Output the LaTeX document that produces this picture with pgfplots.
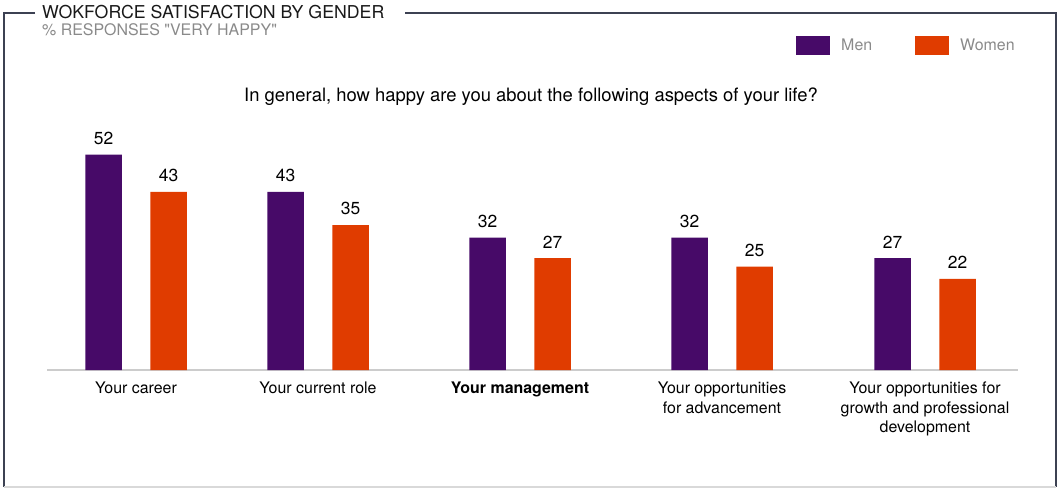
\documentclass[border=0pt]{standalone}
\usepackage{pgfplots}
\pgfplotsset{compat=1.18}
\usepackage{fontspec}
\setmainfont{TeX Gyre Heros}[Ligatures=TeXOff]
\definecolor{men}{HTML}{470A68}
\definecolor{women}{HTML}{E03C00}
\definecolor{frame}{HTML}{3C4152}
\definecolor{lgray}{HTML}{8A8A8A}
\pgfplotstableread{
x men women
136 52 43
318 43 35
520 32 27
722 32 25
925 27 22
}\datatable
\begin{document}
\begin{tikzpicture}
\useasboundingbox (0,0) rectangle (1059bp,-489bp);
\draw[frame, line width=1.2bp] (35bp,-13bp) -- (4bp,-13bp) -- (4bp,-487bp);
\draw[frame, line width=1.2bp] (405bp,-13bp) -- (1056bp,-13bp) -- (1056bp,-487bp);
\draw[black!15, line width=1.2bp] (4bp,-487bp) -- (1056bp,-487bp);
\node[anchor=base west, inner sep=0, text=black!90, font=\fontsize{17.8}{20}\selectfont] at (42bp,-18bp) {WOKFORCE SATISFACTION BY GENDER};
\node[anchor=base west, inner sep=0, text=lgray, font=\fontsize{16}{18}\selectfont] at (42bp,-35bp) {\% RESPONSES "VERY HAPPY"};
\node[anchor=base, inner sep=0, font=\fontsize{18.5}{21}\selectfont] at (531bp,-101bp) {In general, how happy are you about the following aspects of your life?};
\begin{axis}[
  at={(47bp,-370bp)}, anchor=south west,
  scale only axis, width=971bp, height=248.4bp,
  xmin=47, xmax=1018, ymin=0, ymax=60,
  ybar, bar width=36.5bp,
  axis x line*=bottom, axis y line=none,
  x axis line style={draw=black!20, line width=1.2bp, -},
  xtick=data, major tick length=0,
  xticklabels={Your career, Your current role, \raisebox{-4bp}{\textbf{Your management}}, {Your opportunities\\for advancement}, {Your opportunities for\\growth and professional\\development}},
  xticklabel style={align=center, anchor=north, inner sep=0, yshift=-12bp, font=\fontsize{16}{19.5}\selectfont},
  /pgf/number format/assume math mode=true,
  nodes near coords,
  nodes near coords style={anchor=south, inner sep=0, yshift=10bp, font=\fontsize{17.5}{20}\selectfont, text=black},
  legend columns=2,
  legend style={draw=none, fill=none, inner sep=0, at={(axis description cs:0.7714,1.3064)}, anchor=west,
    font=\fontsize{16}{19}\selectfont, text=lgray, nodes={inner sep=0},
    /tikz/every odd column/.append style={column sep=11bp},
    /tikz/every even column/.append style={column sep=43bp}},
]
\addplot[fill=men, draw=none, bar shift=-32.5bp,
  legend image code/.code={\fill[men] (0bp,-9.5bp) rectangle (34bp,9.5bp);}] table[x=x, y=men] {\datatable};
\addlegendentry{Men}
\addplot[fill=women, draw=none, bar shift=32.5bp,
  legend image code/.code={\fill[women] (0bp,-9.5bp) rectangle (34bp,9.5bp);}] table[x=x, y=women] {\datatable};
\addlegendentry{Women}
\end{axis}
\end{tikzpicture}
\end{document}
